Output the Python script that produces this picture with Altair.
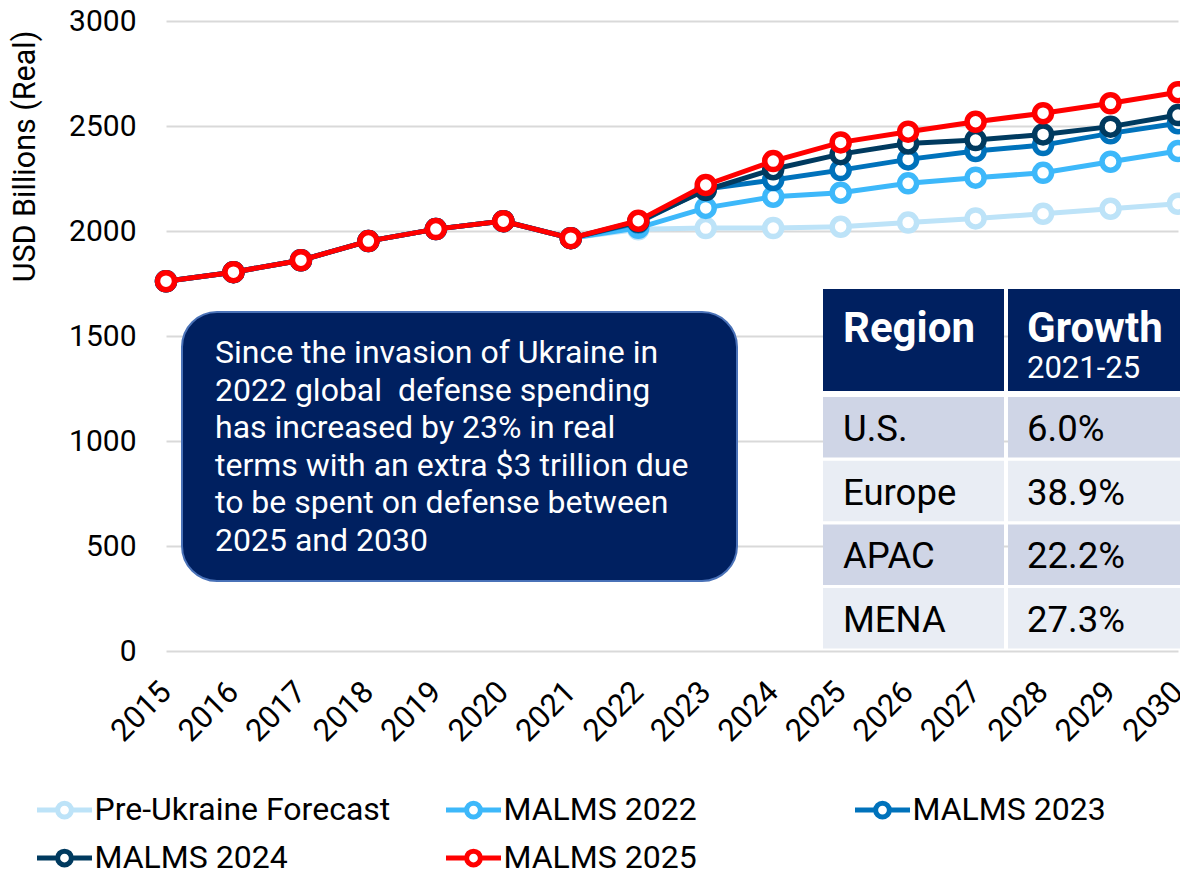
import altair as alt
import pandas as pd

# ---------------- data ----------------
years = list(range(2015, 2031))
history = [1761, 1804, 1861, 1952, 2009, 2047, 1966]
pre_ukraine = history + [2008, 2014, 2014, 2020, 2040, 2060, 2082, 2106, 2130]
malms_2022 = history + [2015, 2110, 2163, 2182, 2227, 2254, 2277, 2330, 2381]
malms_2023 = history + [2040, 2200, 2243, 2290, 2341, 2381, 2409, 2465, 2513]
malms_2024 = history + [2045, 2195, 2294, 2366, 2417, 2433, 2460, 2497, 2552]
malms_2025 = history + [2049, 2219, 2333, 2422, 2473, 2520, 2561, 2608, 2661]

series_names = ["Pre-Ukraine Forecast", "MALMS 2022", "MALMS 2023", "MALMS 2024", "MALMS 2025"]
series_values = [pre_ukraine, malms_2022, malms_2023, malms_2024, malms_2025]
series_colors = ["#BDE3F8", "#3DB8FA", "#0072BB", "#003A5F", "#FF0000"]

y_ticks = [0, 500, 1000, 1500, 2000, 2500, 3000]

regions = ["U.S.", "Europe", "APAC", "MENA"]
growth = ["6.0%", "38.9%", "22.2%", "27.3%"]
table_header = ["Region", "Growth", "2021-25"]

note_lines = [
    "Since the invasion of Ukraine in",
    "2022 global\u00a0 defense spending",
    "has increased by 23% in real",
    "terms with an extra $3 trillion due",
    "to be spent on defense between",
    "2025 and 2030",
]

rows = []
for name, vals in zip(series_names, series_values):
    for yr, v in zip(years, vals):
        rows.append({"series": name, "year": yr, "value": v})
df = pd.DataFrame(rows)

FONT = "Roboto"
one = pd.DataFrame({"k": [0]})

# ---------------- encodings ----------------
x_enc = alt.X(
    "year:Q",
    scale=alt.Scale(domain=[2015, 2030], nice=False, zero=False),
    axis=alt.Axis(
        values=years, format="d", labelAngle=-45, labelAlign="right",
        labelBaseline="middle", labelPadding=36, labelFont=FONT, labelFontSize=31,
        labelColor="black", grid=False, domain=False, ticks=False, title=None,
        labelOverlap=False, labelFlush=False,
    ),
)
y_enc = alt.Y(
    "value:Q",
    scale=alt.Scale(domain=[0, 3000], nice=False),
    axis=alt.Axis(
        values=y_ticks, format="d", grid=True, gridColor="#D9D9D9", gridWidth=2,
        domain=False, ticks=False, labelFont=FONT, labelFontSize=30,
        labelColor="black", labelPadding=30,
        title="USD Billions (Real)", titleFont=FONT, titleFontSize=30.5,
        titleFontWeight="normal", titleColor="black", titleAngle=-90,
        titleX=-141, titleY=135, titleAlign="center", titleBaseline="middle",
    ),
)

legend_path = ("M-2.2,0L-0.55,0M0.55,0L2.2,0"
               "M0.55,0A0.55,0.55,0,1,1,-0.55,0A0.55,0.55,0,1,1,0.55,0Z")
stroke_enc = alt.Stroke(
    "series:N",
    scale=alt.Scale(domain=series_names, range=series_colors),
    legend=alt.Legend(
        orient="none", legendX=-117.5, legendY=773, direction="horizontal",
        columns=3, symbolType=legend_path, symbolSize=625, symbolStrokeWidth=5,
        symbolFillColor="white", labelFont=FONT, labelFontSize=32,
        labelColor="black", labelOffset=14, columnPadding=45, rowPadding=14,
        gridAlign="all", title=None, padding=0, labelLimit=0,
    ),
)

layers = []

# ---------------- annotation box ----------------
layers.append(
    alt.Chart(one).mark_rect(
        cornerRadius=35, fill="#002060", stroke="#4A72B8", strokeWidth=2
    ).encode(x=alt.value(16), x2=alt.value(571), y=alt.value(291), y2=alt.value(560))
)
layers.append(
    alt.Chart(one).mark_text(
        align="left", baseline="alphabetic", font=FONT, fontSize=32,
        color="white", lineHeight=37.6, lineBreak="\n",
    ).encode(x=alt.value(49), y=alt.value(342), text=alt.value("\n".join(note_lines)))
)

# ---------------- table ----------------
col_x = [(657, 838), (842, 1030)]
for cx0, cx1 in col_x:
    layers.append(
        alt.Chart(one).mark_rect(fill="#002060").encode(
            x=alt.value(cx0), x2=alt.value(cx1), y=alt.value(268), y2=alt.value(370))
    )
layers.append(
    alt.Chart(one).mark_text(align="left", baseline="alphabetic", font=FONT,
                             fontSize=42, fontWeight="bold", color="white").encode(
        x=alt.value(677), y=alt.value(321), text=alt.value(table_header[0]))
)
layers.append(
    alt.Chart(one).mark_text(align="left", baseline="alphabetic", font=FONT,
                             fontSize=42, fontWeight="bold", color="white").encode(
        x=alt.value(861), y=alt.value(321), text=alt.value(table_header[1]))
)
layers.append(
    alt.Chart(one).mark_text(align="left", baseline="alphabetic", font=FONT,
                             fontSize=31, color="white").encode(
        x=alt.value(861), y=alt.value(357), text=alt.value(table_header[2]))
)
row_fill = ["#CFD5E6", "#E9EDF4", "#CFD5E6", "#E9EDF4"]
for i, (reg, gr) in enumerate(zip(regions, growth)):
    top = 376 + i * 63.7
    for (cx0, cx1) in col_x:
        layers.append(
            alt.Chart(one).mark_rect(fill=row_fill[i]).encode(
                x=alt.value(cx0), x2=alt.value(cx1), y=alt.value(top), y2=alt.value(top + 60.5))
        )
    for tx, tval in ((677, reg), (861, gr)):
        layers.append(
            alt.Chart(one).mark_text(align="left", baseline="alphabetic", font=FONT,
                                     fontSize=36.5, color="black").encode(
                x=alt.value(tx), y=alt.value(top + 44), text=alt.value(tval))
        )

# ---------------- series ----------------
for name in series_names:
    base = alt.Chart(df).transform_filter(alt.datum.series == name)
    layers.append(base.mark_line(strokeWidth=5).encode(x=x_enc, y=y_enc, stroke=stroke_enc))
    layers.append(
        base.mark_point(shape="circle", filled=True, fill="white", opacity=1,
                        size=289, strokeWidth=5.5).encode(x=x_enc, y=y_enc, stroke=stroke_enc)
    )

chart = alt.layer(*layers).properties(
    width=1012, height=630,
    autosize=alt.AutoSizeParams(type="none"),
    padding={"left": 158, "top": 13, "right": 2, "bottom": 220},
    background="white",
).configure_view(stroke=None)

chart.save("out.html", embed_options={"renderer": "svg", "actions": False})
